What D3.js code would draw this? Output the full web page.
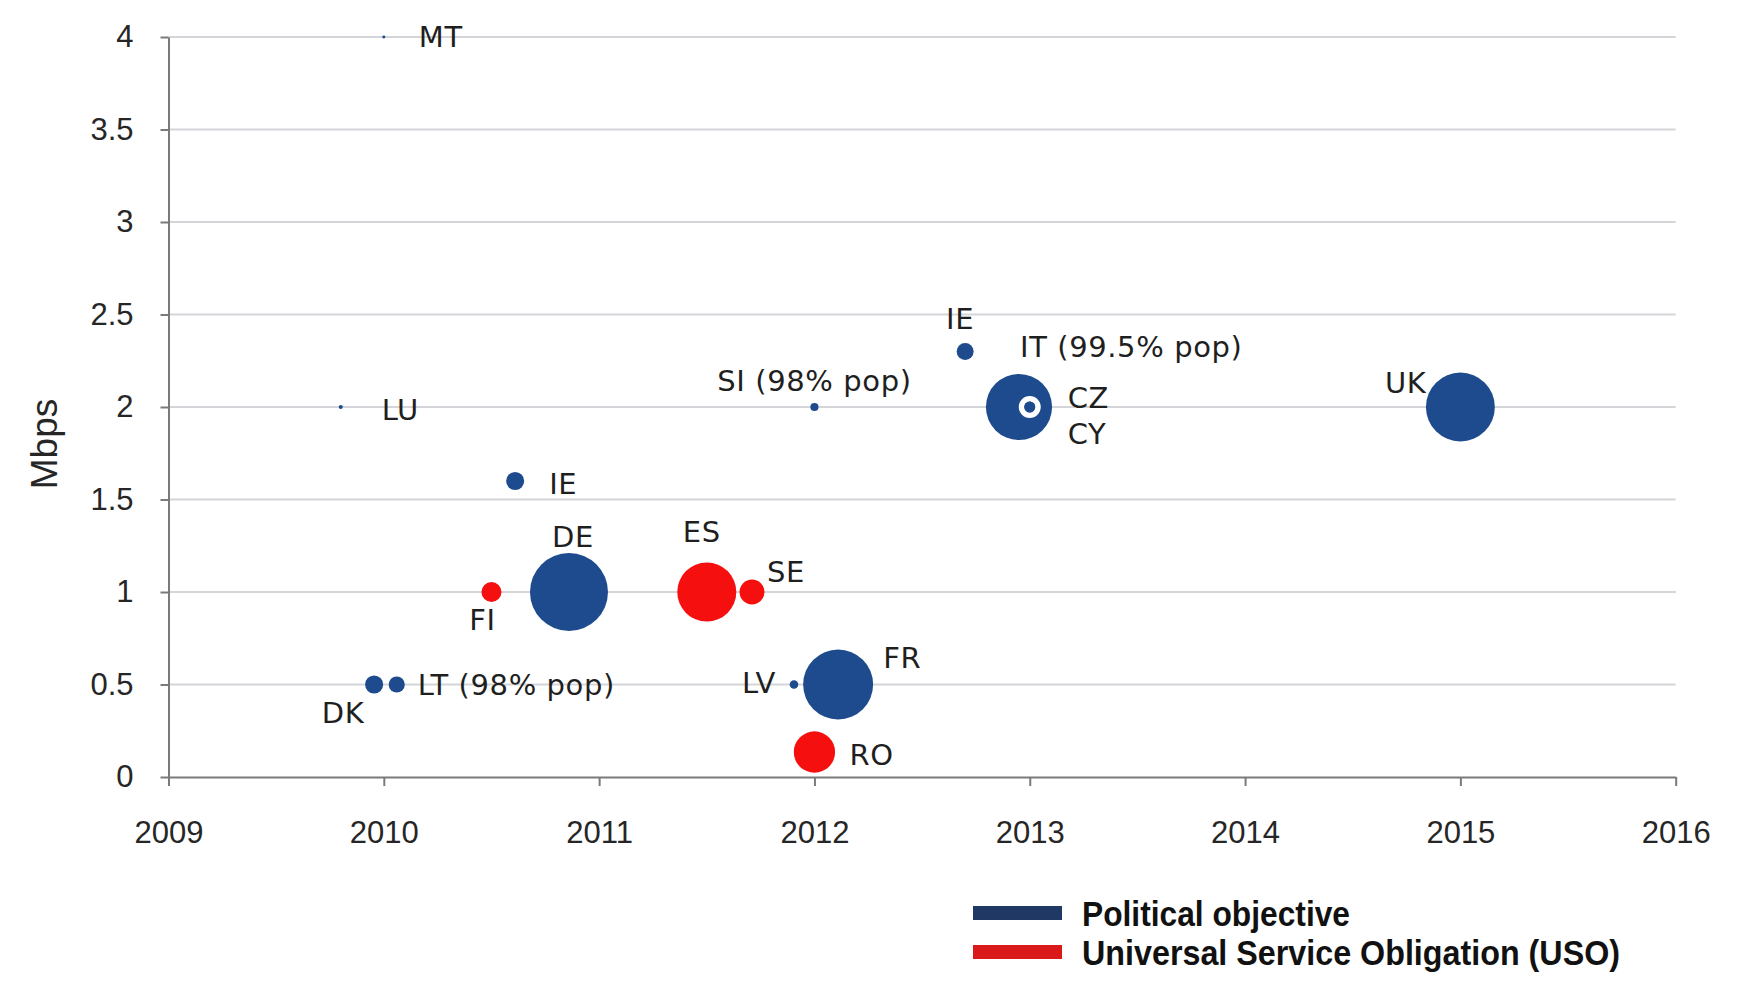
<!DOCTYPE html>
<html>
<head>
<meta charset="utf-8">
<script src="https://cdn.jsdelivr.net/npm/d3@7"></script>
<style>
  html, body { margin: 0; padding: 0; background: #ffffff; }
  svg { display: block; }
</style>
</head>
<body>
<svg id="chart" width="1761" height="992"></svg>
<script>
// ---- data ----
const codes   = ["MT", "LU", "IE", "FI", "DE", "ES", "SE", "DK", "LT", "LV", "FR", "RO", "SI", "IE", "IT", "CZ", "CY", "UK"];
const labels  = ["MT", "LU", "IE", "FI", "DE", "ES", "SE", "DK", "LT (98% pop)", "LV", "FR", "RO", "SI (98% pop)", "IE", "IT (99.5% pop)", "CZ", "CY", "UK"];
const years   = [2010.0, 2009.8, 2010.61, 2010.5, 2010.86, 2011.5, 2011.71, 2009.955, 2010.06, 2011.905, 2012.11, 2012.0, 2012.0, 2012.7, 2012.95, 2013.0, 2013.0, 2015.0];
const mbps    = [4.0, 2.0, 1.6, 1.0, 1.0, 1.0, 1.0, 0.5, 0.5, 0.5, 0.5, 0.135, 2.0, 2.3, 2.0, 2.0, 2.0, 2.0];
const bubbleSize = [0.12, 0.22, 4.4, 5.4, 82, 47, 8.4, 4.4, 3.5, 1.0, 66, 23, 0.9, 3.9, 59, 6.5, 1.6, 64];
const kinds   = ["P", "P", "P", "U", "P", "U", "U", "P", "P", "P", "P", "U", "P", "P", "P", "P", "P", "P"];

const seriesNames = ["Political objective", "Universal Service Obligation (USO)"];
const seriesKeys  = ["P", "U"];
const xTicks = [2009, 2010, 2011, 2012, 2013, 2014, 2015, 2016];
const yTicks = [0, 0.5, 1, 1.5, 2, 2.5, 3, 3.5, 4];
const yTitle = "Mbps";

// ---- label placement (layout, pixels relative to the bubble) ----
const labelPlace = [
  {anchor: "start",  dx: 35,  dy: 0},   // MT
  {anchor: "start",  dx: 41,  dy: 3},   // LU
  {anchor: "start",  dx: 34,  dy: 3},   // IE
  {anchor: "middle", dx: -9,  dy: 28},  // FI
  {anchor: "middle", dx: 4,   dy: -55}, // DE
  {anchor: "middle", dx: -5,  dy: -60}, // ES
  {anchor: "start",  dx: 15,  dy: -20}, // SE
  {anchor: "middle", dx: -31, dy: 28},  // DK
  {anchor: "start",  dx: 21,  dy: 0},   // LT
  {anchor: "end",    dx: -18, dy: -2},  // LV
  {anchor: "start",  dx: 45,  dy: -27}, // FR
  {anchor: "start",  dx: 35,  dy: 3},   // RO
  {anchor: "middle", dx: 0,   dy: -26}, // SI
  {anchor: "middle", dx: -5,  dy: -33}, // IE
  {anchor: "start",  dx: 1,   dy: -60}, // IT
  {anchor: "start",  dx: 38,  dy: -9},  // CZ
  {anchor: "start",  dx: 38,  dy: 27},  // CY
  {anchor: "end",    dx: -34, dy: -24}  // UK
];

const bubbleColor = {P: "#1e4b8e", U: "#f5100f"};
const legendColor = {P: "#1f3864", U: "#d9191a"};

const svg = d3.select("#chart");
const plot = {left: 168.5, right: 1675.7, top: 37, bottom: 777};

const x = d3.scaleLinear().domain([2009, 2016]).range([plot.left, plot.right]);
const y = d3.scaleLinear().domain([0, 4]).range([plot.bottom, plot.top]);
const r = d3.scaleSqrt().domain([0, 82]).range([0, 39]);

// gridlines
svg.append("g")
  .selectAll("line")
  .data(yTicks.filter(d => d > 0))
  .join("line")
  .attr("x1", plot.left).attr("x2", plot.right)
  .attr("y1", d => y(d)).attr("y2", d => y(d))
  .attr("stroke", "#d3d5d8").attr("stroke-width", 2);

// axes
const axisFont = "'Liberation Sans', Arial, sans-serif";
const gy = svg.append("g").attr("transform", `translate(${plot.left},0)`)
  .call(d3.axisLeft(y).tickValues(yTicks).tickFormat(d3.format("")).tickSize(8).tickSizeOuter(0).tickPadding(27));
const gx = svg.append("g").attr("transform", `translate(0,${plot.bottom})`)
  .call(d3.axisBottom(x).tickValues(xTicks).tickFormat(d3.format("d")).tickSize(9).tickSizeOuter(0).tickPadding(35));

[gx, gy].forEach(g => {
  g.select(".domain").attr("stroke", "#7a7a7a").attr("stroke-width", 2);
  g.selectAll(".tick line").attr("stroke", "#7a7a7a").attr("stroke-width", 2);
  g.selectAll(".tick text").attr("fill", "#262626").style("font-family", axisFont).style("font-size", "31px");
});

// y-axis title
svg.append("text")
  .attr("transform", `translate(47,444) rotate(-90)`)
  .attr("text-anchor", "middle").attr("dominant-baseline", "middle")
  .style("font-family", axisFont).style("font-size", "37px").attr("fill", "#262626")
  .text(yTitle);

// bubbles
const points = codes.map((c, i) => ({
  code: c, label: labels[i], year: years[i], v: mbps[i], size: bubbleSize[i], kind: kinds[i], place: labelPlace[i], i
}));
const drawOrder = points.slice().sort((a, b) => b.size - a.size);

svg.append("g")
  .selectAll("circle")
  .data(drawOrder)
  .join("circle")
  .attr("cx", d => x(d.year))
  .attr("cy", d => y(d.v))
  .attr("r", d => d.code === "CZ" ? r(d.size) - 2.75 : Math.max(r(d.size), 1.2))
  .attr("fill", d => bubbleColor[d.kind])
  .attr("stroke", d => d.code === "CZ" ? "#ffffff" : "none")
  .attr("stroke-width", d => d.code === "CZ" ? 5.5 : 0);

// labels
svg.append("g")
  .selectAll("text")
  .data(points)
  .join("text")
  .attr("x", d => x(d.year) + d.place.dx)
  .attr("y", d => y(d.v) + d.place.dy)
  .attr("text-anchor", d => d.place.anchor)
  .attr("dominant-baseline", "central")
  .style("font-family", "'DejaVu Sans', sans-serif")
  .style("font-size", "29px")
  .style("letter-spacing", "0.6px")
  .attr("fill", "#1f1f1f")
  .text(d => d.label);

// legend
const legend = svg.append("g");
const legendRows = seriesKeys.map((k, i) => ({key: k, name: seriesNames[i], row: i}));
const legendW = [268, 538];
legend.selectAll("rect")
  .data(legendRows)
  .join("rect")
  .attr("x", 973).attr("y", d => 906 + d.row * 39)
  .attr("width", 89).attr("height", 14)
  .attr("fill", d => legendColor[d.key]);
legend.selectAll("text")
  .data(legendRows)
  .join("text")
  .attr("x", 1082).attr("y", d => 913 + d.row * 39)
  .attr("dominant-baseline", "central")
  .attr("textLength", d => legendW[d.row])
  .attr("lengthAdjust", "spacingAndGlyphs")
  .style("font-family", axisFont).style("font-size", "35px").style("font-weight", "bold")
  .attr("fill", "#111111")
  .text(d => d.name);
</script>
</body>
</html>
